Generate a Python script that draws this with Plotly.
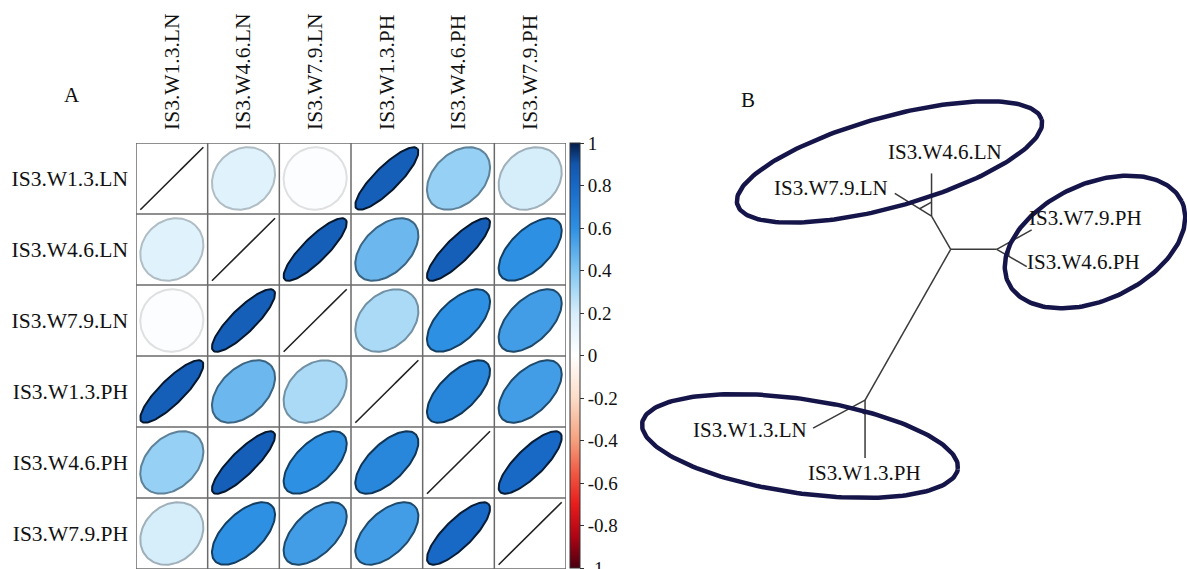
import numpy as np
import plotly.graph_objects as go

# ---------------- data ----------------
labels = ["IS3.W1.3.LN", "IS3.W4.6.LN", "IS3.W7.9.LN",
          "IS3.W1.3.PH", "IS3.W4.6.PH", "IS3.W7.9.PH"]
corr = [
    [1.00, 0.15, 0.02, 0.85, 0.35, 0.20],
    [0.15, 1.00, 0.85, 0.45, 0.85, 0.60],
    [0.02, 0.85, 1.00, 0.30, 0.60, 0.55],
    [0.85, 0.45, 0.30, 1.00, 0.65, 0.55],
    [0.35, 0.85, 0.60, 0.65, 1.00, 0.80],
    [0.20, 0.60, 0.55, 0.55, 0.80, 1.00],
]
cbar_tickvals = [1, 0.8, 0.6, 0.4, 0.2, 0, -0.2, -0.4, -0.6, -0.8, -1]
cbar_ticktext = ["1", "0.8", "0.6", "0.4", "0.2", "0", "-0.2", "-0.4", "-0.6", "-0.8", "-1"]

# unrooted tree (branch lengths and angles in degrees)
edge_parent = ["root", "root", "root", "LN", "LN", "PH", "PH", "W13", "W13"]
edge_child = ["PH", "LN", "W13", "IS3.W4.6.LN", "IS3.W7.9.LN",
              "IS3.W7.9.PH", "IS3.W4.6.PH", "IS3.W1.3.LN", "IS3.W1.3.PH"]
edge_length = [46, 38.3, 173.4, 42.7, 43.2, 40, 34.7, 59, 58]
edge_angle = [0, 120, 240.4, 90, 148.3, 29, -30, 208.3, 270]

# ---------------- style ----------------
FONT = "Liberation Serif"
W, H = 1187, 569
colorscale_pts = [(-1, "#4a0010"), (-0.85, "#b00414"), (-0.7, "#e81c1c"),
                  (-0.55, "#f05a44"), (-0.4, "#f4a07e"), (-0.2, "#fbdcc8"),
                  (0, "#ffffff"), (0.2, "#d6edfa"), (0.4, "#80c6f2"),
                  (0.6, "#2e90e2"), (0.8, "#1868c6"), (0.9, "#1256ac"),
                  (1, "#061c48")]
colorscale = [[(v + 1) / 2, c] for v, c in colorscale_pts]


def hex2rgb(h):
    h = h.lstrip("#")
    return np.array([int(h[i:i + 2], 16) for i in (0, 2, 4)], float)


def color_at(v):
    vs = [p[0] for p in colorscale_pts]
    cs = [hex2rgb(p[1]) for p in colorscale_pts]
    for i in range(len(vs) - 1):
        if vs[i] <= v <= vs[i + 1]:
            t = (v - vs[i]) / (vs[i + 1] - vs[i])
            return cs[i] * (1 - t) + cs[i + 1] * t
    return cs[-1]


def rgbstr(c):
    c = np.clip(c, 0, 255)
    return "rgb(%d,%d,%d)" % tuple(int(round(x)) for x in c)


fig = go.Figure()

# ---------------- panel A: corrplot ellipses ----------------
n = len(labels)
S = 0.88
k = np.linspace(0, 2 * np.pi, 120)
for i in range(n):
    for j in range(n):
        r = corr[i][j]
        d = np.arccos(np.clip(r, -1, 1)) / 2
        ex = np.cos(k + d) / 2 * S
        ey = np.cos(k - d) / 2 * S
        xs = (j + 1) + ex
        ys = (i + 1) - ey
        if i == j:
            fig.add_trace(go.Scatter(x=xs, y=ys, mode="lines",
                                     line=dict(color="#222222", width=1.6),
                                     hoverinfo="skip", showlegend=False))
        else:
            fillc = color_at(r)
            kdark = 0.1 + 0.78 * abs(r)
            linec = fillc * (1 - kdark)
            fig.add_trace(go.Scatter(x=xs, y=ys, mode="lines", fill="toself",
                                     fillcolor=rgbstr(fillc),
                                     line=dict(color=rgbstr(linec), width=2),
                                     hoverinfo="skip", showlegend=False))

# invisible markers carrying the values -> colorbar
cx, cy, cv = [], [], []
for i in range(n):
    for j in range(n):
        cx.append(j + 1)
        cy.append(i + 1)
        cv.append(corr[i][j])
fig.add_trace(go.Scatter(
    x=cx, y=cy, mode="markers",
    marker=dict(size=1, opacity=0, color=cv, coloraxis="coloraxis"),
    hoverinfo="skip", showlegend=False))

# grid lines
shapes = []
for b in np.arange(0.5, n + 1, 1.0):
    shapes.append(dict(type="line", xref="x", yref="y", x0=b, x1=b, y0=0.5, y1=n + 0.5,
                       line=dict(color="#6a6a6a", width=1.5)))
    shapes.append(dict(type="line", xref="x", yref="y", y0=b, y1=b, x0=0.5, x1=n + 0.5,
                       line=dict(color="#6a6a6a", width=1.5)))

# ---------------- panel B: tree ----------------
pos = {"root": np.array([0.0, 0.0])}
for p, c, L, a in zip(edge_parent, edge_child, edge_length, edge_angle):
    t = np.deg2rad(a)
    pos[c] = pos[p] + L * np.array([np.cos(t), np.sin(t)])

tx, ty = [], []
for p, c in zip(edge_parent, edge_child):
    tx += [pos[p][0], pos[c][0], None]
    ty += [pos[p][1], pos[c][1], None]
# small connectors near internal nodes (as drawn by the tree plot)
CONN = 14
for node in ["LN", "PH", "W13"]:
    kids = [c for p, c in zip(edge_parent, edge_child) if p == node]
    pts = []
    for c in kids:
        v = pos[c] - pos[node]
        pts.append(pos[node] + v / np.linalg.norm(v) * CONN)
    tx += [pts[0][0], pts[1][0], None]
    ty += [pts[0][1], pts[1][1], None]
fig.add_trace(go.Scatter(x=tx, y=ty, mode="lines", xaxis="x2", yaxis="y2",
                         line=dict(color="#3a3a3a", width=1.5),
                         hoverinfo="skip", showlegend=False))

# group ellipses (center x, center y, semi-major, semi-minor, angle deg)
group_ellipses = [(-61.2, 87.3, 158, 45, 15.6),
                  (144.3, 7.3, 95.8, 58, 25),
                  (-150.7, -196.7, 159.5, 47, -8.3)]
tt = np.linspace(0, 2 * np.pi, 200)
for (ecx, ecy, ea, eb, eth) in group_ellipses:
    th = np.deg2rad(eth)
    xe = ecx + ea * np.cos(tt) * np.cos(th) - eb * np.sin(tt) * np.sin(th)
    ye = ecy + ea * np.cos(tt) * np.sin(th) + eb * np.sin(tt) * np.cos(th)
    fig.add_trace(go.Scatter(x=xe, y=ye, mode="lines", xaxis="x2", yaxis="y2",
                             line=dict(color="#15154a", width=4.5),
                             hoverinfo="skip", showlegend=False))

# tip label placement (anchor, xshift, yshift)
tip_style = {
    "IS3.W4.6.LN": ("center", "middle", 13, 21),
    "IS3.W7.9.LN": ("right", "middle", -5, 5),
    "IS3.W7.9.PH": ("left", "middle", -5, 12),
    "IS3.W4.6.PH": ("left", "middle", -2, 5),
    "IS3.W1.3.LN": ("right", "middle", -4, -2),
    "IS3.W1.3.PH": ("center", "middle", -1, -15),
}
annotations = []
for name, (xa, ya, xs_, ys_) in tip_style.items():
    annotations.append(dict(x=pos[name][0], y=pos[name][1], xref="x2", yref="y2",
                            text=name, showarrow=False, xanchor=xa, yanchor=ya,
                            xshift=xs_, yshift=ys_,
                            font=dict(family=FONT, size=21, color="#111111")))
annotations.append(dict(x=72 / W, y=1 - 95 / H, xref="paper", yref="paper", text="A",
                        showarrow=False, xanchor="center", yanchor="middle",
                        font=dict(family=FONT, size=21, color="#111111")))
annotations.append(dict(x=748 / W, y=1 - 100 / H, xref="paper", yref="paper", text="B",
                        showarrow=False, xanchor="center", yanchor="middle",
                        font=dict(family=FONT, size=21, color="#111111")))

root_px = (950.7, 249.3)
x2dom = [0.5, 1.0]
x2range = [x2dom[0] * W - root_px[0], x2dom[1] * W - root_px[0]]
y2range = [-(H - root_px[1]), root_px[1]]

fig.update_layout(
    width=W, height=H, autosize=False,
    margin=dict(l=0, r=0, t=0, b=0),
    paper_bgcolor="white", plot_bgcolor="rgba(0,0,0,0)",
    font=dict(family=FONT, color="#111111"),
    showlegend=False,
    xaxis=dict(domain=[136 / W, 566 / W], range=[0.5, n + 0.5], side="top",
               tickvals=list(range(1, n + 1)), ticktext=labels, tickangle=-90,
               showgrid=False, zeroline=False, showline=False, ticks="",
               tickfont=dict(family=FONT, size=21.5, color="#111111"),
               ticklabelstandoff=12, fixedrange=True),
    yaxis=dict(domain=[0, 426 / H], range=[n + 0.5, 0.5],
               tickvals=list(range(1, n + 1)), ticktext=labels,
               showgrid=False, zeroline=False, showline=False, ticks="",
               tickfont=dict(family=FONT, size=21.5, color="#111111"),
               ticklabelstandoff=7, fixedrange=True),
    xaxis2=dict(domain=x2dom, range=x2range, visible=False, fixedrange=True, anchor="y2"),
    yaxis2=dict(domain=[0, 1], range=y2range, visible=False, fixedrange=True, anchor="x2"),
    coloraxis=dict(
        colorscale=colorscale, cmin=-1, cmax=1,
        colorbar=dict(
            x=570 / W, xanchor="left", y=1 - 143 / H, yanchor="top",
            len=425, lenmode="pixels", thickness=10, thicknessmode="pixels",
            xpad=0, ypad=0, outlinewidth=1, outlinecolor="#333333",
            tickvals=cbar_tickvals, ticktext=cbar_ticktext,
            ticks="outside", ticklen=4, tickcolor="#333333",
            ticklabeloverflow="allow",
            tickfont=dict(family=FONT, size=19, color="#111111"),
        ),
    ),
    shapes=shapes,
    annotations=annotations,
)

fig.write_html("out.html", config={"displayModeBar": False},
               post_script="document.body.style.margin='0';")
